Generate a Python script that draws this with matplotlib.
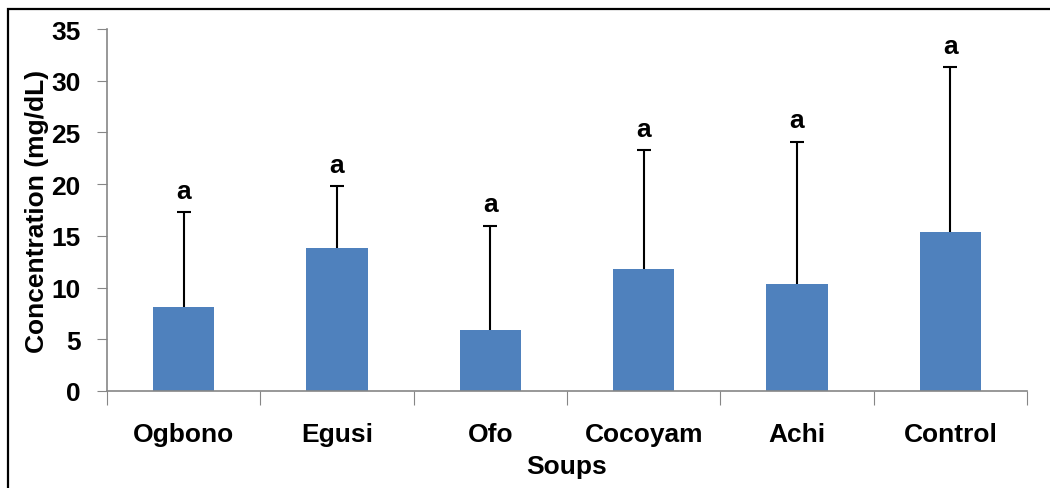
import matplotlib.pyplot as plt
import numpy as np
from matplotlib.patches import Rectangle

soups = ["Ogbono", "Egusi", "Ofo", "Cocoyam", "Achi", "Control"]
means = [8.1, 13.8, 5.9, 11.8, 10.3, 15.4]
errs = [9.2, 6.0, 10.1, 11.5, 13.8, 15.9]
letters = ["a", "a", "a", "a", "a", "a"]

plt.rcParams['font.family'] = ['Liberation Sans', 'DejaVu Sans']
fs = 19

fig = plt.figure(figsize=(10.5, 4.89), dpi=100)
ax = fig.add_axes([107/1050, 1-392/489, 920/1050, 362/489])

x = np.arange(len(soups))
tops = np.array(means) + np.array(errs)
ax.bar(x, means, width=0.4, color="#4F81BD", zorder=2)
# upper-only error bars
ax.vlines(x, means, tops, color="black", linewidth=1.5, zorder=3)
ax.hlines(tops, x - 0.045, x + 0.045, color="black", linewidth=1.5, zorder=3)

for xi, t, l in zip(x, tops, letters):
    ax.text(xi, t + 0.9, l, ha="center", va="bottom", fontsize=fs, fontweight="bold")

ax.set_xlim(-0.5, len(soups) - 0.5)
ax.set_ylim(0, 35)
ax.set_yticks(np.arange(0, 36, 5))
ax.set_xticks(np.arange(-0.5, len(soups), 1.0))
ax.set_xticklabels([])
ax.set_xticks(x, minor=True)
ax.set_xticklabels(soups, minor=True, fontsize=fs, fontweight="bold")
ax.tick_params(axis="x", which="major", length=10, color="#868686", direction="out")
ax.tick_params(axis="x", which="minor", length=0, pad=22)
ax.tick_params(axis="y", length=7, color="#868686", labelsize=fs, pad=12)
for lab in ax.get_yticklabels():
    lab.set_fontweight("bold")

for s in ["top", "right"]:
    ax.spines[s].set_visible(False)
for s in ["left", "bottom"]:
    ax.spines[s].set_color("#868686")
    ax.spines[s].set_linewidth(1.2)

ax.set_ylabel("Concentration (mg/dL)", fontsize=fs, fontweight="bold")
ax.yaxis.set_label_coords(-0.063, 0.5)
fig.text(567/1050, 1-467/489, "Soups", ha="center", va="center", fontsize=fs, fontweight="bold")

fig.patches.append(Rectangle((8/1050, -0.1), 1.2, 1-10/489+0.1, transform=fig.transFigure,
                             fill=False, edgecolor="black", linewidth=1.6))

fig.savefig("out.png", dpi=100)
